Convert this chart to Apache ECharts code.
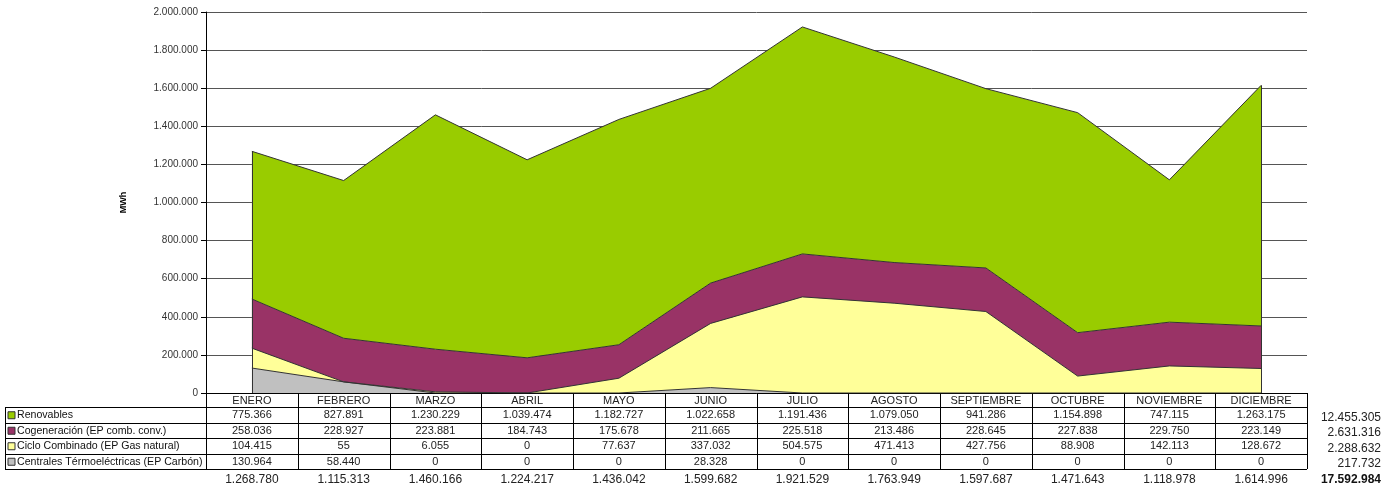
<!DOCTYPE html>
<html>
<head>
<meta charset="utf-8">
<script src="https://cdn.jsdelivr.net/npm/echarts@6/dist/echarts.min.js"></script>
<style>
  html, body { margin: 0; padding: 0; background: #fff; }
  #chart { width: 1384px; height: 491px; }
</style>
</head>
<body>
<div id="chart"></div>
<script>
// meses
var months = ['ENERO', 'FEBRERO', 'MARZO', 'ABRIL', 'MAYO', 'JUNIO', 'JULIO', 'AGOSTO', 'SEPTIEMBRE', 'OCTUBRE', 'NOVIEMBRE', 'DICIEMBRE'];

// MWh por tecnología
var renovables = [775366, 827891, 1230229, 1039474, 1182727, 1022658, 1191436, 1079050, 941286, 1154898, 747115, 1263175];
var cogeneracion = [258036, 228927, 223881, 184743, 175678, 211665, 225518, 213486, 228645, 227838, 229750, 223149];
var cicloCombinado = [104415, 55, 6055, 0, 77637, 337032, 504575, 471413, 427756, 88908, 142113, 128672];
var carbon = [130964, 58440, 0, 0, 0, 28328, 0, 0, 0, 0, 0, 0];

// totales tal como aparecen en la tabla
var monthTotals = [1268780, 1115313, 1460166, 1224217, 1436042, 1599682, 1921529, 1763949, 1597687, 1471643, 1118978, 1614996];
var seriesTotals = [12455305, 2631316, 2288632, 217732];
var grandTotal = 17592984;

var yTicks = [0, 2000000, 200000];

var fmt = function (v) {
  return String(v).replace(/\B(?=(\d{3})+(?!\d))/g, '.');
};

var rows = [
  {name: 'Renovables', color: '#99CC00', data: renovables},
  {name: 'Cogeneración (EP comb. conv.)', color: '#993366', data: cogeneracion},
  {name: 'Ciclo Combinado (EP Gas natural)', color: '#FFFF99', data: cicloCombinado},
  {name: 'Centrales Térmoeléctricas (EP Carbón)', color: '#C0C0C0', data: carbon}
];

var FONT = '"Liberation Sans", Arial, sans-serif';
var chart = echarts.init(document.getElementById('chart'));

function areaSeries(r, extra) {
  var s = {
    name: r.name,
    type: 'line',
    stack: 'total',
    data: r.data,
    symbol: 'none',
    lineStyle: {color: '#333', width: 1},
    areaStyle: {color: r.color, opacity: 1},
    itemStyle: {color: r.color},
    emphasis: {disabled: true},
    animation: false
  };
  return Object.assign(s, extra || {});
}

var edgeLines = [
  [{coord: [0, 0]}, {coord: [0, monthTotals[0]]}],
  [{coord: [11, 0]}, {coord: [11, monthTotals[11]]}]
];

chart.setOption({
  animation: false,
  grid: {left: 206, right: 77, top: 12, bottom: 98},
  xAxis: {
    type: 'category',
    data: months,
    boundaryGap: true,
    axisLine: {lineStyle: {color: '#000', width: 1}},
    axisTick: {show: false},
    axisLabel: {show: false},
    splitLine: {show: false}
  },
  yAxis: {
    type: 'value',
    min: yTicks[0],
    max: yTicks[1],
    interval: yTicks[2],
    name: 'MWh',
    nameLocation: 'middle',
    nameRotate: 90,
    nameGap: 78,
    nameTextStyle: {fontFamily: FONT, fontSize: 9, fontWeight: 'bold', color: '#000'},
    axisLine: {show: true, lineStyle: {color: '#000'}},
    axisTick: {show: true, length: 5, lineStyle: {color: '#000'}},
    axisLabel: {fontFamily: FONT, fontSize: 10, color: '#333', margin: 8, formatter: fmt},
    splitLine: {lineStyle: {color: '#555', width: 1}}
  },
  series: [
    areaSeries(rows[3]),
    areaSeries(rows[2]),
    areaSeries(rows[1]),
    areaSeries(rows[0], {
      markLine: {
        silent: true,
        symbol: 'none',
        label: {show: false},
        lineStyle: {color: '#333', width: 1, type: 'solid'},
        data: edgeLines
      }
    })
  ]
});

// tabla de datos bajo el gráfico
var step = chart.convertToPixel({xAxisIndex: 0}, 1) - chart.convertToPixel({xAxisIndex: 0}, 0);
var centers = months.map(function (m, i) { return chart.convertToPixel({xAxisIndex: 0}, i); });
var x0 = centers[0] - step / 2;
var x1 = centers[11] + step / 2;
var yAxis0 = chart.convertToPixel({yAxisIndex: 0}, 0);
var rowY = [yAxis0, yAxis0 + 14, yAxis0 + 29.5, yAxis0 + 45, yAxis0 + 60.5, yAxis0 + 76];
var leftX = 5;
var g = [];
var lineStyle = {stroke: '#000', lineWidth: 1};

for (var i = 0; i <= 12; i++) {
  var x = Math.round(x0 + i * step) + 0.5;
  g.push({type: 'line', shape: {x1: x, y1: rowY[0], x2: x, y2: rowY[5]}, style: lineStyle, silent: true});
}
g.push({type: 'line', shape: {x1: leftX + 0.5, y1: rowY[1], x2: leftX + 0.5, y2: rowY[5]}, style: lineStyle, silent: true});
for (var r = 1; r <= 5; r++) {
  var y = Math.round(rowY[r]) + 0.5;
  g.push({type: 'line', shape: {x1: leftX, y1: y, x2: x1, y2: y}, style: lineStyle, silent: true});
}

months.forEach(function (m, i) {
  g.push({type: 'text', x: centers[i], y: (rowY[0] + rowY[1]) / 2 + 1, silent: true,
    style: {text: m, font: '11px ' + FONT, fill: '#222', align: 'center', verticalAlign: 'middle'}});
});

rows.forEach(function (row, r) {
  var cy = (rowY[r + 1] + rowY[r + 2]) / 2 + 0.5;
  g.push({type: 'rect', shape: {x: leftX + 3, y: cy - 3.5, width: 7, height: 7},
    style: {fill: row.color, stroke: '#333', lineWidth: 1}, silent: true});
  g.push({type: 'text', x: leftX + 12, y: cy, silent: true,
    style: {text: row.name, font: '10.6px ' + FONT, fill: '#111', align: 'left', verticalAlign: 'middle'}});
  row.data.forEach(function (v, i) {
    g.push({type: 'text', x: centers[i], y: cy, silent: true,
      style: {text: fmt(v), font: '11px ' + FONT, fill: '#222', align: 'center', verticalAlign: 'middle'}});
  });
  g.push({type: 'text', x: 1381, y: cy + 2, silent: true,
    style: {text: fmt(seriesTotals[r]), font: '12px ' + FONT, fill: '#222', align: 'right', verticalAlign: 'middle'}});
});

var ty = rowY[5] + 11;
monthTotals.forEach(function (v, i) {
  g.push({type: 'text', x: centers[i], y: ty, silent: true,
    style: {text: fmt(v), font: '12px ' + FONT, fill: '#222', align: 'center', verticalAlign: 'middle'}});
});
g.push({type: 'text', x: 1381, y: ty, silent: true,
  style: {text: fmt(grandTotal), font: 'bold 12px ' + FONT, fill: '#111', align: 'right', verticalAlign: 'middle'}});

chart.setOption({graphic: g});
</script>
</body>
</html>
